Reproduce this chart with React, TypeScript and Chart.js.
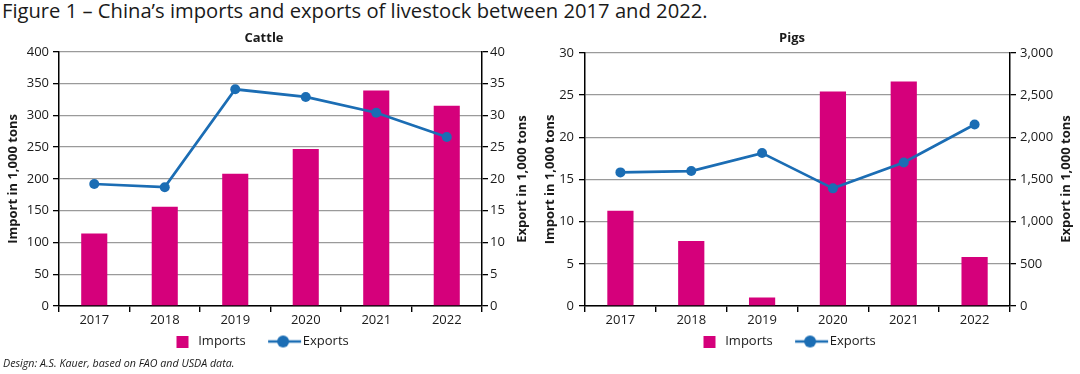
import React, { useEffect, useRef } from 'react';
import { Chart, registerables } from 'chart.js';

Chart.register(...registerables);

// ---- data ----
const years = ['2017', '2018', '2019', '2020', '2021', '2022'];
const cattleImports = [114, 156, 208, 247, 339, 315];
const cattleExports = [19.2, 18.7, 34.1, 32.9, 30.4, 26.6];
const pigsImports = [11.3, 7.7, 1.0, 25.4, 26.6, 5.8];
const pigsExports = [1583, 1599, 1812, 1394, 1701, 2150];
const seriesLabels = ['Imports', 'Exports'];
const axisTitles = ['Import in 1,000 tons', 'Export in 1,000 tons'];
const panelTitles = ['Cattle', 'Pigs'];
const figureTitle = 'Figure 1 – China’s imports and exports of livestock between 2017 and 2022.';
const footerText = 'Design: A.S. Kauer, based on FAO and USDA data.';
const cattleImportAxis = [0, 400, 50];
const cattleExportAxis = [0, 40, 5];
const pigsImportAxis = [0, 30, 5];
const pigsExportAxis = [0, 3000, 500];

// ---- styles ----
const MAGENTA = '#d5007b';
const BLUE = '#1b6db4';
const GRID = '#9a9a9a';
const TEXT = '#1a1a1a';
const FONT = "'Open Sans', sans-serif";

function makeImportsImg() {
  const c = document.createElement('canvas');
  c.width = 40;
  c.height = 12;
  const g = c.getContext('2d')!;
  g.fillStyle = MAGENTA;
  g.fillRect(27, 0, 12, 12);
  return c;
}

function makeExportsImg() {
  const c = document.createElement('canvas');
  c.width = 56;
  c.height = 14;
  const g = c.getContext('2d')!;
  g.strokeStyle = BLUE;
  g.lineWidth = 2.6;
  g.beginPath();
  g.moveTo(22, 7);
  g.lineTo(55, 7);
  g.stroke();
  g.fillStyle = BLUE;
  g.beginPath();
  g.arc(37, 7, 6, 0, Math.PI * 2);
  g.fill();
  return c;
}

type PanelProps = {
  imports: number[];
  exports: number[];
  impAxis: number[];
  expAxis: number[];
  left: number;
  width: number;
  leftW: number;
  rightW: number;
  leftTitlePad: number;
  leftTickPad: number;
  rightTickPad: number;
};

const CANVAS_TOP = 40;
const CANVAS_H = 318;

function Panel(p: PanelProps) {
  const ref = useRef<HTMLCanvasElement | null>(null);
  useEffect(() => {
    if (!ref.current) return;
    const importsImg = makeImportsImg();
    const exportsImg = makeExportsImg();
    const tickFont = { family: FONT, size: 13 };
    const titleFont = { family: FONT, size: 13, weight: 'bold' as const };
    const chart = new Chart(ref.current, {
      type: 'bar',
      data: {
        labels: years,
        datasets: [
          {
            type: 'bar',
            label: seriesLabels[0],
            data: p.imports,
            backgroundColor: MAGENTA,
            yAxisID: 'y',
            order: 1,
            barPercentage: 0.37,
            categoryPercentage: 1,
          },
          {
            type: 'line',
            label: seriesLabels[1],
            data: p.exports,
            borderColor: BLUE,
            backgroundColor: BLUE,
            borderWidth: 2.7,
            pointRadius: 5,
            pointBackgroundColor: BLUE,
            pointBorderWidth: 0,
            yAxisID: 'y1',
            order: 0,
            tension: 0,
          } as any,
        ],
      },
      options: {
        responsive: false,
        animation: false,
        locale: 'en-US',
        layout: { padding: { top: 11.7, left: 0, right: 0, bottom: 0 } },
        plugins: {
          title: { display: false },
          tooltip: { enabled: false },
          legend: {
            display: true,
            position: 'bottom',
            labels: {
              usePointStyle: true,
              pointStyleWidth: 44.5,
              boxHeight: 13,
              padding: 6,
              color: TEXT,
              font: { family: FONT, size: 13 },
              generateLabels: () => [
                {
                  text: seriesLabels[0],
                  pointStyle: importsImg as any,
                  fillStyle: MAGENTA,
                  strokeStyle: MAGENTA,
                  lineWidth: 0,
                  hidden: false,
                  datasetIndex: 0,
                  fontColor: TEXT,
                },
                {
                  text: seriesLabels[1],
                  pointStyle: exportsImg as any,
                  fillStyle: BLUE,
                  strokeStyle: BLUE,
                  lineWidth: 0,
                  hidden: false,
                  datasetIndex: 1,
                  fontColor: TEXT,
                },
              ],
            },
          },
        },
        scales: {
          x: {
            z: 1,
            grid: { drawOnChartArea: false, drawTicks: true, tickLength: 6, tickColor: '#000', lineWidth: 1.4, offset: true },
            border: { display: true, color: '#000', width: 1.5 },
            ticks: { padding: 0, color: TEXT, font: tickFont },
            afterFit: (s: any) => { s.height = 23; },
          },
          y: {
            position: 'left',
            min: p.impAxis[0],
            max: p.impAxis[1],
            ticks: { stepSize: p.impAxis[2], padding: p.leftTickPad, color: TEXT, font: tickFont },
            grid: { color: GRID, lineWidth: 1.3, tickColor: '#000', tickLength: 6 },
            border: { display: true, color: '#000', width: 1.5 },
            title: { display: true, text: axisTitles[0], color: TEXT, font: titleFont, padding: { top: p.leftTitlePad, bottom: 0 } },
            afterFit: (s: any) => { s.width = p.leftW; },
          },
          y1: {
            position: 'right',
            min: p.expAxis[0],
            max: p.expAxis[1],
            ticks: { stepSize: p.expAxis[2], padding: p.rightTickPad, color: TEXT, font: tickFont },
            grid: { drawOnChartArea: false, tickColor: '#000', tickLength: 6, lineWidth: 1.3 },
            border: { display: true, color: '#000', width: 1.5 },
            title: { display: false },
            afterFit: (s: any) => { s.width = p.rightW; },
          },
        },
      } as any,
    });
    return () => chart.destroy();
  }, []);
  return (
    <canvas
      ref={ref}
      width={p.width}
      height={CANVAS_H}
      style={{ position: 'absolute', left: p.left, top: CANVAS_TOP, width: p.width, height: CANVAS_H }}
    />
  );
}

function RightTitle({ cx }: { cx: number }) {
  const cy = 178.7;
  return (
    <div
      style={{
        position: 'absolute',
        left: cx - 100,
        top: cy - 8,
        width: 200,
        height: 16,
        lineHeight: '16px',
        fontSize: 13,
        fontWeight: 700,
        textAlign: 'center',
        whiteSpace: 'nowrap',
        transform: 'rotate(-90deg)',
        transformOrigin: '50% 50%',
      }}
    >
      {axisTitles[1]}
    </div>
  );
}

export default function App() {
  return (
    <div
      style={{
        position: 'absolute',
        left: 0,
        top: 0,
        width: 1080,
        height: 374,
        overflow: 'hidden',
        background: '#fff',
        fontFamily: FONT,
        color: TEXT,
      }}
    >
      <div style={{ position: 'absolute', left: 2, top: -2, fontSize: 20.2, lineHeight: '24px', whiteSpace: 'nowrap' }}>
        {figureTitle}
      </div>
      <Panel
        imports={cattleImports}
        exports={cattleExports}
        impAxis={cattleImportAxis}
        expAxis={cattleExportAxis}
        left={-33}
        width={562}
        leftW={92}
        rightW={47}
        leftTitlePad={38}
        leftTickPad={4}
        rightTickPad={2}
      />
      <Panel
        imports={pigsImports}
        exports={pigsExports}
        impAxis={pigsImportAxis}
        expAxis={pigsExportAxis}
        left={472}
        width={606}
        leftW={113}
        rightW={68}
        leftTitlePad={70}
        leftTickPad={5}
        rightTickPad={4}
      />
      <RightTitle cx={521} />
      <RightTitle cx={1065} />
      <div style={{ position: 'absolute', left: 164, width: 200, top: 28.5, textAlign: 'center', fontSize: 13, lineHeight: '16px', fontWeight: 700 }}>
        {panelTitles[0]}
      </div>
      <div style={{ position: 'absolute', left: 692, width: 200, top: 28.5, textAlign: 'center', fontSize: 13, lineHeight: '16px', fontWeight: 700 }}>
        {panelTitles[1]}
      </div>
      <div style={{ position: 'absolute', left: 3, top: 356, fontSize: 10.7, lineHeight: '14px', fontStyle: 'italic', whiteSpace: 'nowrap' }}>
        {footerText}
      </div>
    </div>
  );
}
